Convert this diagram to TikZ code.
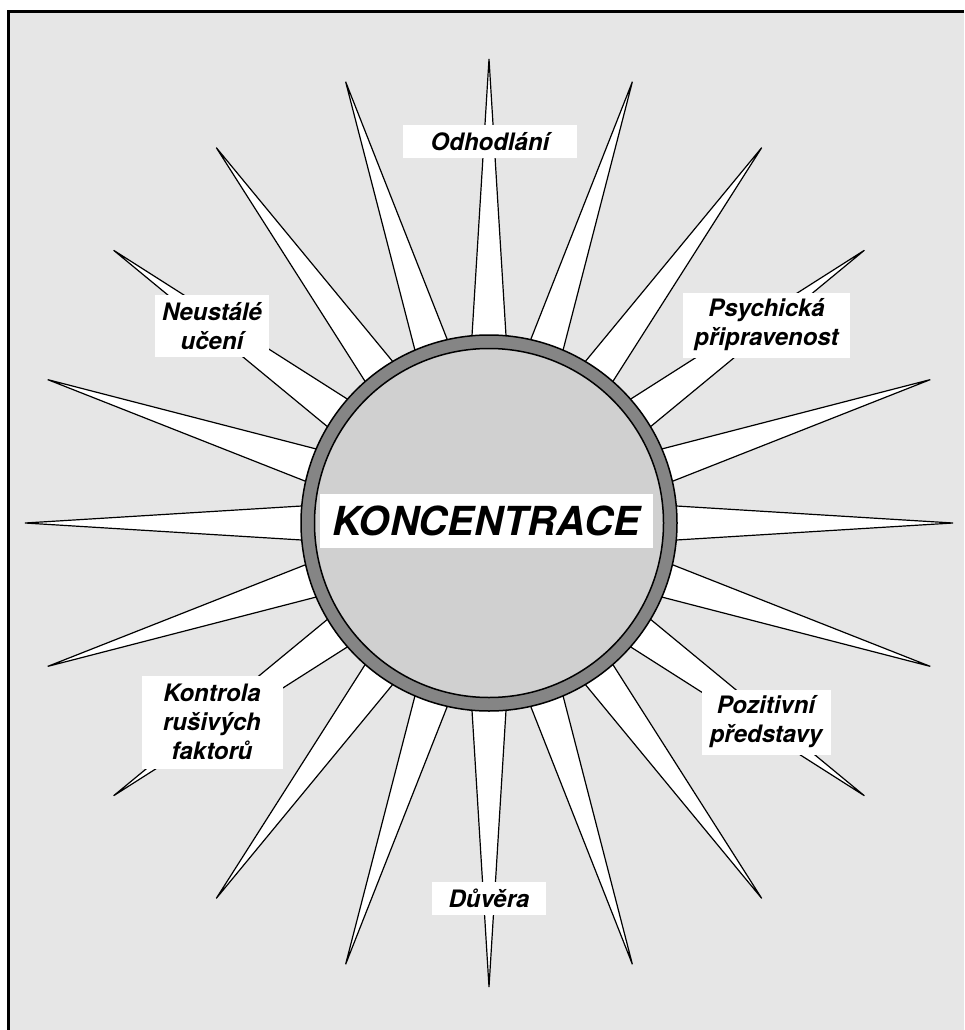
\documentclass[tikz,border=0pt]{standalone}
\usepackage{fontspec}
\setmainfont{TeX Gyre Heros}
\usetikzlibrary{calc}
\definecolor{bggray}{RGB}{230,230,230}
\definecolor{ringgray}{RGB}{133,133,133}
\definecolor{discgray}{RGB}{208,208,208}
\begin{document}
\begin{tikzpicture}[x=1pt,y=-1pt,
  ray/.style={fill=white,draw=black,line width=1.2pt},
  lbl/.style={fill=white,inner sep=0pt,align=center,font=\fontsize{24}{29}\selectfont\bfseries\itshape},
  ringstyle/.style={circle,draw=black,line width=1.5pt,inner sep=0pt},
]
\useasboundingbox (0,0) rectangle (964,1030);
\fill[white] (0,0) rectangle (964,1030);
\fill[bggray] (8,11.5) rectangle (964,1030);
\draw[line width=3pt] (8,1030) -- (8,11.5) -- (964,11.5);
\coordinate (c) at (489,523);
\foreach \a in {0,18,...,342} {
  \draw[ray] ($(c)+(\a:464)$) -- ($(c)+(\a:150)+(\a+90:19.3)$) -- ($(c)+(\a:150)+(\a-90:19.3)$) -- cycle;
}
\node[ringstyle, fill=ringgray, minimum size=376pt] (ring) at (c) {};
\node[ringstyle, fill=discgray, minimum size=349pt] (disc) at (c) {};
\node[lbl, minimum width=333pt, minimum height=54pt, font=\fontsize{40}{48}\selectfont\bfseries\itshape] (main) at (486,521) {KONCENTRACE};
\node[lbl, minimum width=174pt, minimum height=33pt] (odh) at (490,141.5) {Odhodlání};
\node[lbl, minimum width=114pt, minimum height=62pt] (neu) at (212,326) {Neustálé\\učení};
\node[lbl, minimum width=167pt, minimum height=65pt] (psy) at (766.5,325) {Psychická\\připravenost};
\node[lbl, minimum width=141pt, minimum height=93pt] (kon) at (212,722) {Kontrola\\rušivých\\faktorů};
\node[lbl, minimum width=129pt, minimum height=65pt] (poz) at (766,722) {Pozitivní\\představy};
\node[lbl, minimum width=114pt, minimum height=33pt] (duv) at (489,898) {Důvěra};
\end{tikzpicture}
\end{document}
